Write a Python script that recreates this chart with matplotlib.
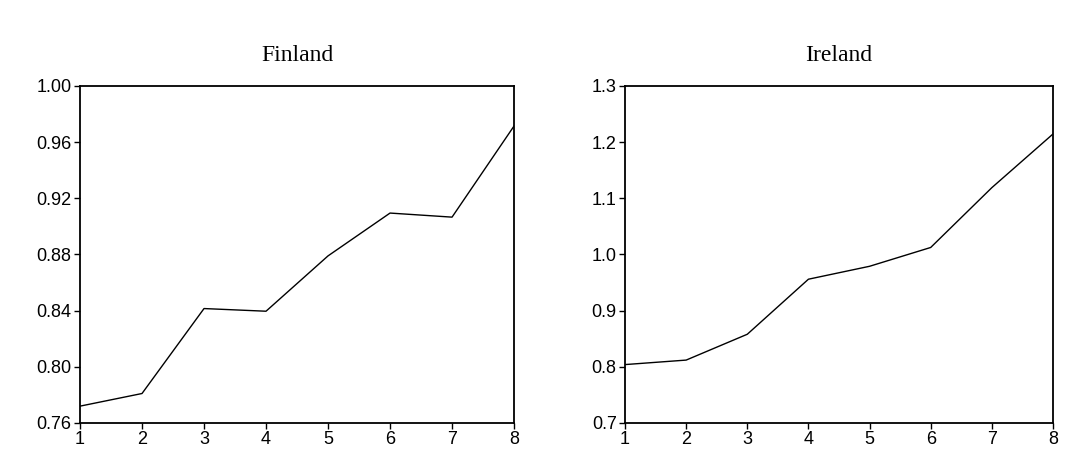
import numpy as np
import matplotlib
matplotlib.use("Agg")
import matplotlib.pyplot as plt

# horizon 1..8
horizon = [1, 2, 3, 4, 5, 6, 7, 8]

finland = [0.772, 0.781, 0.8415, 0.8396, 0.879, 0.9095, 0.9066, 0.9715]
ireland = [0.804, 0.812, 0.858, 0.956, 0.979, 1.0125, 1.119, 1.2145]

finland_yticks = [0.76, 0.80, 0.84, 0.88, 0.92, 0.96, 1.00]
ireland_yticks = [0.7, 0.8, 0.9, 1.0, 1.1, 1.2, 1.3]

plt.rcParams["font.family"] = ["Liberation Sans", "DejaVu Sans"]

fig = plt.figure(figsize=(10.87, 4.74), dpi=100)
ax1 = fig.add_axes([0.0736, 0.1076, 0.3993, 0.711])
ax2 = fig.add_axes([0.5750, 0.1076, 0.3937, 0.711])

panels = [
    (ax1, "Finland", finland, finland_yticks, "%.2f"),
    (ax2, "Ireland", ireland, ireland_yticks, "%.1f"),
]

for ax, name, vals, yt, fmt in panels:
    ax.plot(horizon, vals, color="black", lw=1.0)
    ax.set_xlim(1, 8)
    ax.set_ylim(yt[0], yt[-1])
    ax.set_xticks(horizon)
    ax.set_yticks(yt)
    ax.set_yticklabels([fmt % v for v in yt])
    ax.tick_params(direction="out", length=4.5, width=1.0, labelsize=13,
                   pad=1.5, top=False, right=False)
    for s in ax.spines.values():
        s.set_linewidth(1.3)
    ax.set_title(name, family="Liberation Serif", fontsize=17, pad=18)

fig.savefig("out.png", dpi=100)
